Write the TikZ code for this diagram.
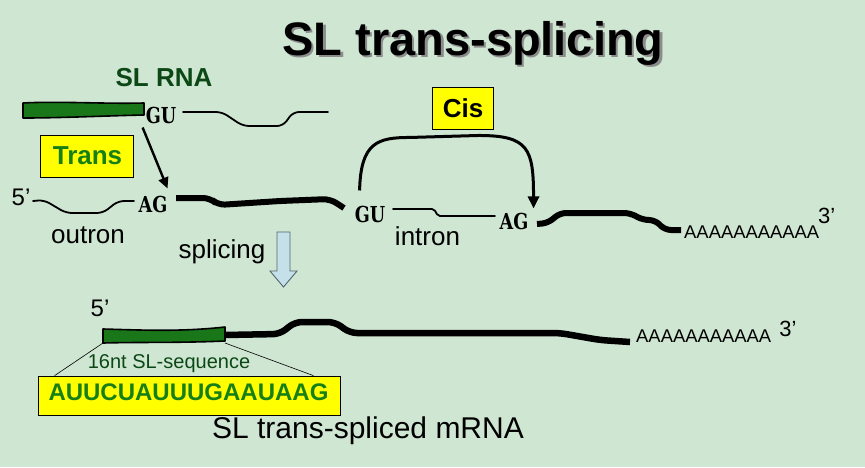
\documentclass[tikz,border=0pt]{standalone}
\usepackage{fontspec}
\setmainfont{Liberation Sans}
\newfontfamily\gufont{DejaVu Serif}
\usetikzlibrary{arrows.meta,calc}
\definecolor{bggreen}{RGB}{207,230,210}
\definecolor{slgreen}{RGB}{25,118,25}
\definecolor{darkgreen}{RGB}{12,72,22}
\definecolor{txtgreen}{RGB}{22,128,22}
\definecolor{boxyellow}{RGB}{255,255,0}
\definecolor{arrowblue}{RGB}{198,224,234}
\definecolor{arrowedge}{RGB}{80,100,110}
\newcommand{\sitetxt}[1]{\scalebox{0.8}[1]{#1}}
\begin{document}
\begin{tikzpicture}[x=1pt,y=-1pt,
  txt/.style={inner sep=0pt,anchor=base,font=\fontsize{#1}{#1}\selectfont},
  btxt/.style={inner sep=0pt,anchor=base,font=\fontsize{#1}{#1}\selectfont\bfseries},
  site/.style={inner sep=0pt,anchor=base,font=\gufont\bfseries\fontsize{22}{22}\selectfont},
  ybox/.style={draw=black,line width=0.8pt,fill=boxyellow,inner sep=0pt},
  thinrna/.style={line width=1.8pt,line join=round,line cap=round,rounded corners=6pt},
  thickrna/.style={line width=6pt,line join=round,rounded corners=7pt},
  slbar/.style={fill=slgreen,draw=black,line width=1.6pt,line join=round},
  arr/.style={line width=2.4pt,-{Triangle[length=11pt,width=10pt]}},
  zoomline/.style={line width=0.6pt}
]
\fill[bggreen] (0,0) rectangle (865,467);
\useasboundingbox (0,0) rectangle (865,467);

% title with shadow
\node[btxt=47] (title) at (473,55)
  {\rlap{\kern2.5pt\raisebox{-2.5pt}{\color{black!45}SL trans-splicing}}SL trans-splicing};

% SL RNA
\node[btxt=26,text=darkgreen] (slrna) at (164,86) {SL RNA};
\path[slbar] (23,103) .. controls (60,101) and (100,104) .. (144,103)
  -- (144,115) .. controls (100,116) and (60,118) .. (23,118) -- cycle;
\node[site] (gu1) at (161,123) {\sitetxt{GU}};
\draw[thinrna] (183,112) -- (222,112) -- (243,126) -- (283,126) -- (293,112) -- (328,112);

% Trans box
\node[ybox,minimum width=93pt,minimum height=42pt] (transbox) at (86.5,156) {};
\node[btxt=26,text=txtgreen] (trans) at (87.5,164) {Trans};

% pre-mRNA
\node[txt=24] (five1) at (21,205) {5’};
\draw[thinrna] (33,201) -- (44,200) -- (66,213) -- (103,213) -- (118,201) -- (134,201);
\node[site] (ag1) at (153,212) {\sitetxt{AG}};
\node[txt=26] (outron) at (88,243) {outron};
\draw[thickrna] (176,198) -- (210,198) -- (218,205) -- (280,201) -- (330,199) -- (344,208);
\node[site] (gu2) at (370,222) {\sitetxt{GU}};
\draw[thinrna,rounded corners=2pt] (393,209) -- (434,209) -- (438,216) -- (495,216);
\node[site] (ag2) at (514,229) {\sitetxt{AG}};
\node[txt=26] (intron) at (427.5,245) {intron};
\draw[thickrna,rounded corners=6pt] (537,224) -- (548,223) -- (560,213) -- (630,213) -- (643,220) -- (655,220) -- (665,230) -- (681,230);
\node[txt=18.4,anchor=base west] (polya1) at (684,238) {AAAAAAAAAAA};
\node[txt=22,anchor=base west] (three1) at (818,223) {3’};

% Trans arrow
\coordinate (tstart) at ($(gu1.south west)+(-3,4)$);
\coordinate (tend) at ($(ag1.north east)+(0,-7)$);
\draw[arr] (tstart) -- (tend);

% Cis box and arc
\node[ybox,minimum width=61pt,minimum height=42pt] (cisbox) at (462.5,108) {};
\node[btxt=26] (cis) at (463,117) {Cis};
\coordinate (cstart) at ($(gu2.north west)+(5,-15)$);
\coordinate (cend) at ($(ag2.north east)+(5,-4)$);
\draw[line width=3pt,-{Triangle[length=12pt,width=11pt]}]
  (cstart) .. controls ($(cstart)+(1,-48)$) and ($(cstart)+(18,-53)$) .. ($(cstart)+(50,-53)$)
  -- ($(cend)+(-55,-73)$) .. controls ($(cend)+(-5,-73)$) and ($(cend)+(0,-60)$) .. (cend);

% splicing
\node[txt=26] (splicing) at (222,258) {splicing};
\draw[fill=arrowblue,draw=arrowedge,line width=0.9pt,line join=miter]
  (277,232) -- (290,232) -- (290,271) -- (297,271) -- (283.5,287) -- (270,271) -- (277,271) -- cycle;

% spliced mRNA
\node[txt=24] (five2) at (100,316) {5’};
\draw[thickrna,line width=6.5pt] (224,335) -- (280,334) -- (295,322) -- (335,322) -- (350,333) -- (560,333) -- (600,340) -- (630,342);
\path[slbar] (103,329) .. controls (140,330) and (180,332) .. (225,327)
  -- (225,341) .. controls (180,343) and (140,342) .. (103,343) -- cycle;
\coordinate (barsw) at (103,343);
\coordinate (barse) at (225,343);
\node[txt=18.4,anchor=base west] (polya2) at (636,342) {AAAAAAAAAAA};
\node[txt=22] (three2) at (788,336) {3’};

\node[txt=20,text=darkgreen] (sl16) at (169,368) {16nt SL-sequence};
\node[ybox,minimum width=302pt,minimum height=39pt] (seqbox) at (189,395.5) {};
\node[btxt=24,text=txtgreen] (seq) at (188.5,400) {AUUCUAUUUGAAUAAG};
\draw[zoomline] (barsw) -- ($(seqbox.north west)+(17,0)$);
\draw[zoomline] (barse) -- ($(seqbox.north east)+(-27,0)$);

\node[txt=30] (mrna) at (368,438) {SL trans-spliced mRNA};
\end{tikzpicture}
\end{document}
